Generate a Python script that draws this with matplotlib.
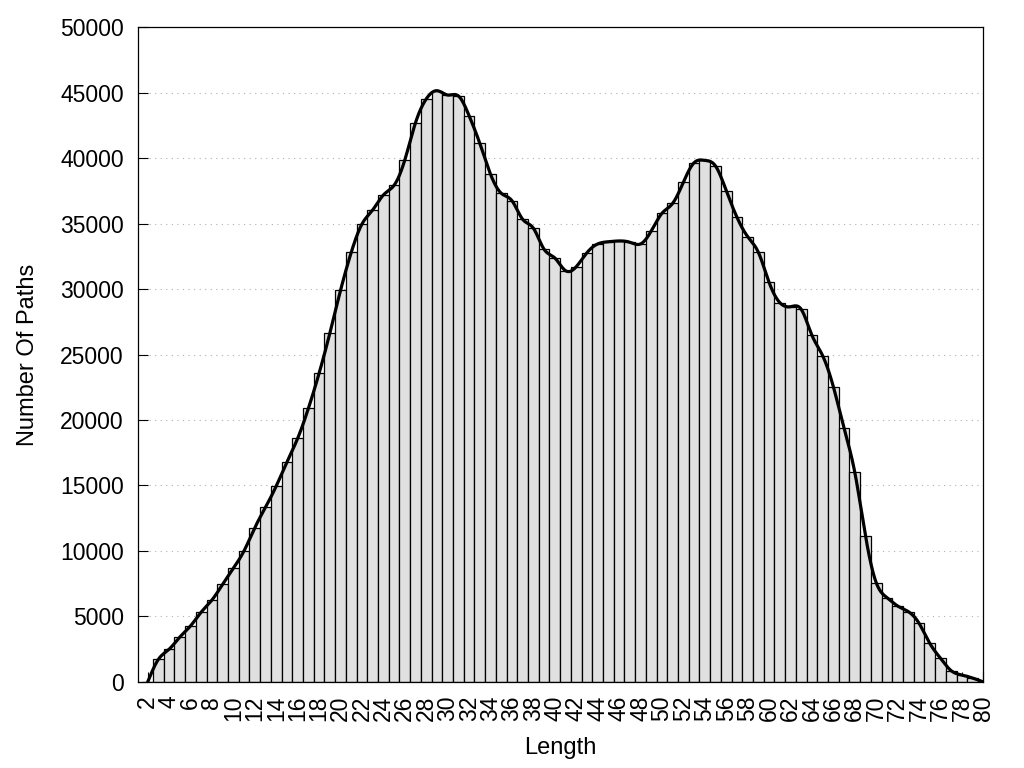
import numpy as np
import matplotlib
matplotlib.use("Agg")
import matplotlib.pyplot as plt

plt.rcParams['font.family'] = ['Liberation Sans', 'DejaVu Sans']

lengths = list(range(2, 81))
paths = [0, 1730, 2500, 3430, 4280, 5340, 6260, 7460, 8680, 10020,
         11780, 13340, 14960, 16800, 18600, 20890, 23570, 26620, 29900, 32800,
         34960, 36030, 37180, 37920, 39850, 42700, 44510, 45140, 44810, 44740,
         43230, 41120, 38760, 37310, 36740, 35320, 34640, 33030, 32370, 31400,
         31700, 32770, 33440, 33610, 33670, 33570, 33440, 34430, 35780, 36540,
         38150, 39640, 39820, 39390, 37510, 35480, 34000, 32800, 30510, 28960,
         28650, 28450, 26470, 24910, 22540, 19370, 16010, 11150, 7580, 6440,
         5800, 5370, 4480, 2950, 1810, 860, 530, 300, 0]
xticks = list(range(2, 81, 2))
yticks = list(range(0, 50001, 5000))


def natural_cspline(x, y, num=2000):
    x = np.asarray(x, float)
    y = np.asarray(y, float)
    n = len(x)
    h = np.diff(x)
    A = np.zeros((n, n))
    b = np.zeros(n)
    A[0, 0] = 1
    A[-1, -1] = 1
    for i in range(1, n - 1):
        A[i, i - 1] = h[i - 1]
        A[i, i] = 2 * (h[i - 1] + h[i])
        A[i, i + 1] = h[i]
        b[i] = 6 * ((y[i + 1] - y[i]) / h[i] - (y[i] - y[i - 1]) / h[i - 1])
    M = np.linalg.solve(A, b)
    xs = np.linspace(x[0], x[-1], num)
    idx = np.clip(np.searchsorted(x, xs) - 1, 0, n - 2)
    x0, x1 = x[idx], x[idx + 1]
    hh = x1 - x0
    t0 = x1 - xs
    t1 = xs - x0
    ys = (M[idx] * t0 ** 3 / (6 * hh) + M[idx + 1] * t1 ** 3 / (6 * hh)
          + (y[idx] / hh - M[idx] * hh / 6) * t0
          + (y[idx + 1] / hh - M[idx + 1] * hh / 6) * t1)
    return xs, ys


fig = plt.figure(figsize=(10.24, 7.68), dpi=100)
ax = fig.add_axes([0.1345, 0.112, 0.9603 - 0.1345, 0.9648 - 0.112])

ax.set_axisbelow(True)
ax.yaxis.grid(True, linestyle=(0, (1, 4)), color='#b0b0b0', linewidth=0.8)

ax.bar(lengths, paths, width=1.0, color='#e0e0e0', edgecolor='black',
       linewidth=0.9, zorder=2)

xs, ys = natural_cspline(lengths, paths)
ax.plot(xs, ys, color='black', linewidth=2.3, zorder=3, solid_capstyle='round')

ax.set_xlim(1.07, 80.0)
ax.set_ylim(0, 50000)
ax.set_xticks(xticks)
ax.set_xticklabels([str(t) for t in xticks], rotation=90, fontsize=16.5)
ax.set_yticks(yticks)
ax.set_yticklabels([str(t) for t in yticks], fontsize=16.5)
ax.tick_params(axis='both', direction='in', length=7, width=0.8,
               top=False, right=False, colors='black')
ax.tick_params(axis='x', pad=10)
ax.tick_params(axis='y', pad=10)
for s in ax.spines.values():
    s.set_linewidth(0.9)
    s.set_zorder(4)

ax.set_xlabel('Length', fontsize=17, labelpad=11)
ax.set_ylabel('Number Of Paths', fontsize=17, labelpad=15)

fig.savefig('out.png', dpi=100)
